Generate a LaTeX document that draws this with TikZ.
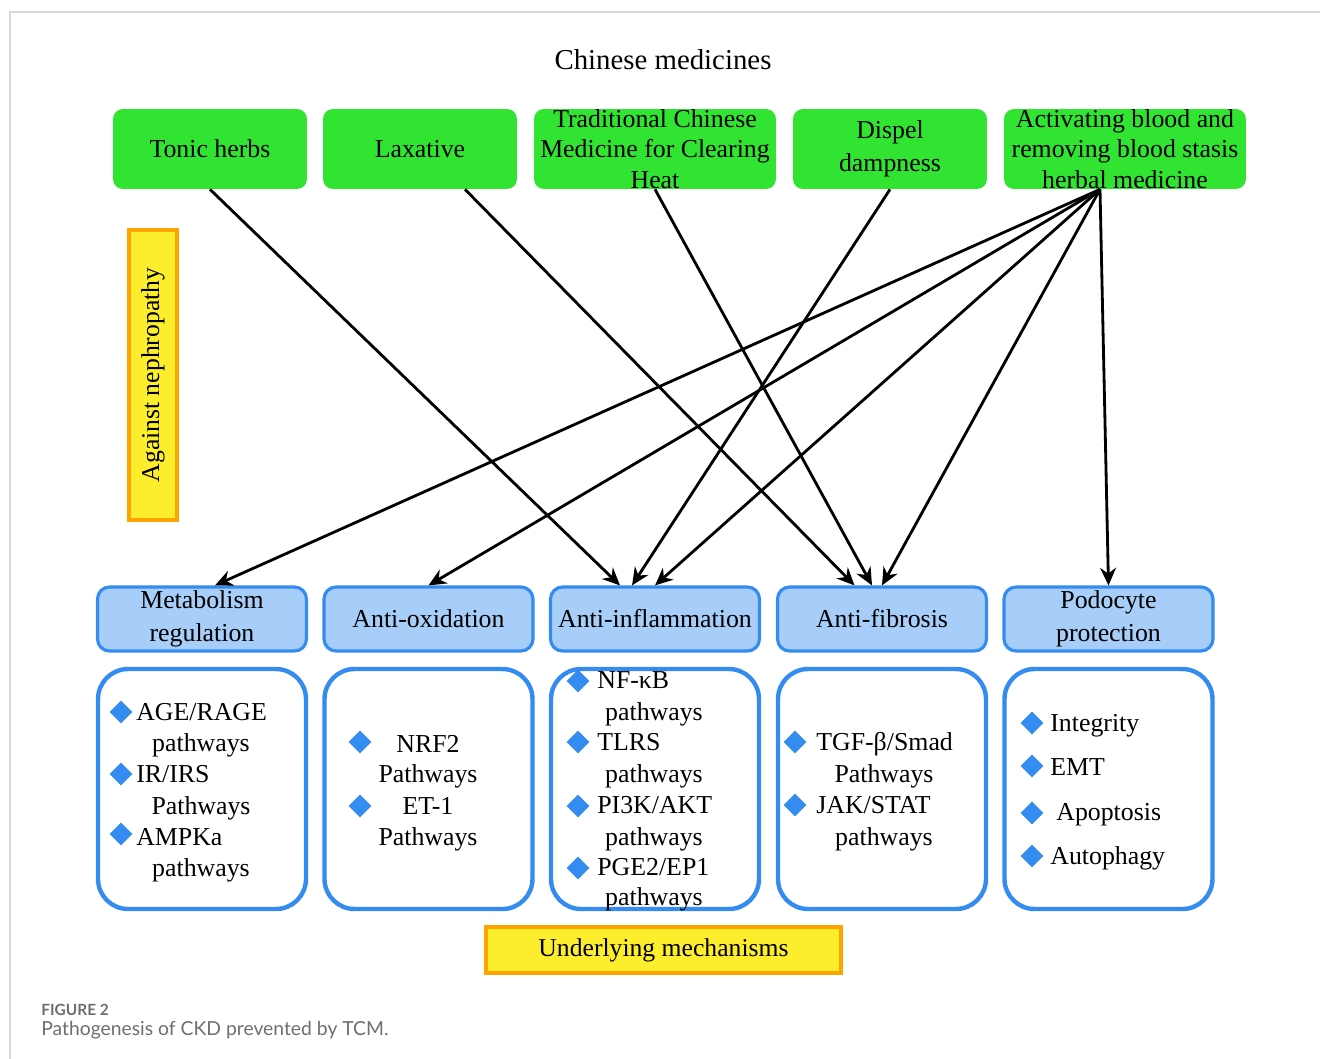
\documentclass[tikz,border=0pt]{standalone}
\usepackage{fontspec}
\setmainfont{Liberation Serif}
\newfontfamily\capfont{Lato}
\usetikzlibrary{arrows.meta,shapes.geometric}

\definecolor{herbgreen}{RGB}{50,228,50}
\definecolor{mechblue}{RGB}{166,206,248}
\definecolor{edgeblue}{RGB}{52,140,240}
\definecolor{noteyellow}{RGB}{253,238,45}
\definecolor{noteorange}{RGB}{255,163,0}
\definecolor{framegray}{RGB}{216,216,216}
\definecolor{capgray}{RGB}{110,110,110}

\newcommand{\herbtext}[2][3.8cm]{\parbox[c][1.4cm][c]{#1}{\centering #2}}

\tikzset{
  herb/.style={fill=herbgreen, rounded corners=0.2cm, minimum height=1.6cm, inner sep=0pt, font=\fontsize{14.7}{17.5}\selectfont},
  effect/.style={draw=edgeblue, fill=mechblue, line width=1.8pt, rounded corners=0.24cm, minimum width=4.18cm, minimum height=1.28cm, inner sep=0pt, align=center, font=\fontsize{14.7}{18.7}\selectfont},
  detail/.style={draw=edgeblue, line width=2.5pt, rounded corners=0.6cm, minimum width=4.16cm, minimum height=4.8cm},
  note/.style={draw=noteorange, fill=noteyellow, line width=2.3pt, inner sep=0pt, font=\fontsize{14.6}{17}\selectfont},
  itemtext/.style={font=\fontsize{14.7}{17}\selectfont, inner sep=0pt},
  bulletmark/.style={diamond, fill=edgeblue, inner sep=0pt, minimum size=0.46cm},
  link/.style={-{Stealth[length=10pt,width=9pt]}, line width=1.6pt}
}

\begin{document}
\begin{tikzpicture}[x=0.02cm, y=-0.02cm]
\useasboundingbox (0,0) rectangle (1320,1059);
\draw[framegray, line width=1.2pt] (10,1059) -- (10,12) -- (1320,12);

\node[font=\fontsize{16.4}{19}\selectfont] (title) at (663,60) {Chinese medicines};

% medicine groups
\node[herb, minimum width=3.88cm] (tonic) at (210,149) {\herbtext{Tonic herbs}};
\node[herb, minimum width=3.88cm] (laxative) at (420,149) {\herbtext{Laxative}};
\node[herb, minimum width=4.84cm] (heat) at (655,149) {\herbtext[4.8cm]{Traditional Chinese\\Medicine for Clearing\\Heat}};
\node[herb, minimum width=3.88cm] (damp) at (890,149) {\herbtext{\fontsize{14.7}{18.7}\selectfont Dispel\\dampness}};
\node[herb, minimum width=4.84cm] (blood) at (1125,149) {\herbtext[4.8cm]{Activating blood and\\removing blood stasis\\herbal medicine}};

\node[note, rotate=90, minimum width=5.8cm, minimum height=0.96cm] (against) at (153,375) {Against nephropathy};

% effects and their pathways
\foreach \n/\xc/\txt in {meta/202/{Metabolism\\regulation}, oxid/428.5/Anti-oxidation, inflam/655/Anti-inflammation, fibro/882/Anti-fibrosis, podo/1108.5/{Podocyte\\protection}}
{
  \node[effect] (\n) at (\xc,619) {\txt};
  \node[detail] (\n-box) at (\xc,789) {};
}

\node[note, minimum width=7.1cm, minimum height=0.92cm] (under) at (663.5,950) {Underlying mechanisms};

% metabolism regulation
\node[bulletmark] (age-dot) at (121,712) {};
\node[itemtext, anchor=base west] (age) at (136,720) {AGE/RAGE};
\node[itemtext, anchor=base] (age-p) at (201,751) {pathways};
\node[bulletmark] (irs-dot) at (121,774) {};
\node[itemtext, anchor=base west] (irs) at (136,782) {IR/IRS};
\node[itemtext, anchor=base] (irs-p) at (201,814) {Pathways};
\node[bulletmark] (ampk-dot) at (121,834) {};
\node[itemtext, anchor=base west] (ampk) at (136,845) {AMPKa};
\node[itemtext, anchor=base] (ampk-p) at (201,876) {pathways};

% anti-oxidation
\node[bulletmark] (nrf-dot) at (360,742) {};
\node[itemtext, anchor=base] (nrf) at (428,752) {NRF2};
\node[itemtext, anchor=base] (nrf-p) at (428,782) {Pathways};
\node[bulletmark] (et-dot) at (360,806) {};
\node[itemtext, anchor=base] (et) at (428,814) {ET-1};
\node[itemtext, anchor=base] (et-p) at (428,845) {Pathways};

% anti-inflammation
\node[bulletmark] (nfkb-dot) at (578,681) {};
\node[itemtext, anchor=base west] (nfkb) at (597,688) {NF-κB};
\node[itemtext, anchor=base] (nfkb-p) at (654,720) {pathways};
\node[bulletmark] (tlrs-dot) at (578,742) {};
\node[itemtext, anchor=base west] (tlrs) at (597,750) {TLRS};
\node[itemtext, anchor=base] (tlrs-p) at (654,782) {pathways};
\node[bulletmark] (pik-dot) at (578,806) {};
\node[itemtext, anchor=base west] (pik) at (597,813) {PI3K/AKT};
\node[itemtext, anchor=base] (pik-p) at (654,845) {pathways};
\node[bulletmark] (pge-dot) at (578,868) {};
\node[itemtext, anchor=base west] (pge) at (597,875) {PGE2/EP1};
\node[itemtext, anchor=base] (pge-p) at (654,905) {pathways};

% anti-fibrosis
\node[bulletmark] (tgf-dot) at (795,742) {};
\node[itemtext, anchor=base west] (tgf) at (816,750) {TGF-β/Smad};
\node[itemtext, anchor=base] (tgf-p) at (884,782) {Pathways};
\node[bulletmark] (jak-dot) at (795,805) {};
\node[itemtext, anchor=base west] (jak) at (816,813) {JAK/STAT};
\node[itemtext, anchor=base] (jak-p) at (884,845) {pathways};

% podocyte protection
\node[bulletmark] (integ-dot) at (1032,723) {};
\node[itemtext, anchor=base west] (integ) at (1050,731) {Integrity};
\node[bulletmark] (emt-dot) at (1032,766) {};
\node[itemtext, anchor=base west] (emt) at (1050,775) {EMT};
\node[bulletmark] (apop-dot) at (1032,813) {};
\node[itemtext, anchor=base west] (apop) at (1056,820) {Apoptosis};
\node[bulletmark] (auto-dot) at (1032,856) {};
\node[itemtext, anchor=base west] (auto) at (1050,864) {Autophagy};

% arrows
\draw[link] (tonic.south) -- ([xshift=-0.7cm]inflam.north);
\draw[link] ([xshift=0.9cm]laxative.south) -- ([xshift=-0.55cm]fibro.north);
\draw[link] (heat.south) -- ([xshift=-0.2cm]fibro.north);
\draw[link] (damp.south) -- ([xshift=-0.46cm]inflam.north);
\foreach \t/\s in {meta/0.26cm, oxid/0cm, inflam/0cm, fibro/0cm, podo/0cm}
  \draw[link] ([xshift=-0.5cm]blood.south) -- ([xshift=\s]\t.north);

% caption
\node[anchor=base west, inner sep=0pt, font=\capfont\bfseries\fontsize{8.8}{10}\selectfont, text=capgray] (figlabel) at (41,1015) {FIGURE 2};
\node[anchor=base west, inner sep=0pt, font=\capfont\fontsize{11}{13}\selectfont, text=capgray] (caption) at (41,1035) {Pathogenesis of CKD prevented by TCM.};
\end{tikzpicture}
\end{document}
